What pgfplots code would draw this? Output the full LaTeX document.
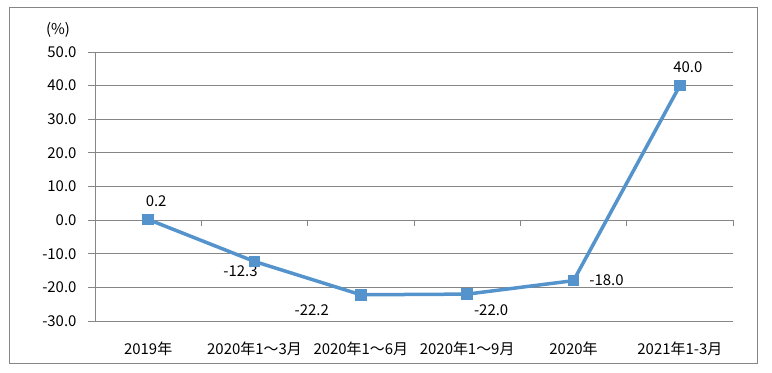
\documentclass[border=0pt]{standalone}
\usepackage{pgfplots}
\pgfplotsset{compat=1.18}
\usepackage{fontspec}
\setmainfont{Noto Sans CJK SC}
\definecolor{gridc}{RGB}{134,134,134}
\definecolor{lineblue}{RGB}{84,147,204}
\begin{document}
\begin{tikzpicture}[x=1bp,y=1bp,font=\fontsize{15}{18}\selectfont]
\path[use as bounding box] (0,0) rectangle (772,372);
\draw[gridc, line width=0.8bp] (9,9) rectangle (757,365);
\node at (58,342) {(\%)};
\begin{axis}[
  at={(95bp,51bp)}, anchor=south west,
  scale only axis, width=638bp, height=269bp,
  xmin=-0.5, xmax=5.5, ymin=-30, ymax=50,
  clip=false,
  axis y line*=left, axis x line*=bottom,
  x axis line style={draw=none},
  y axis line style={gridc, line width=0.8bp},
  ytick={-30,-20,...,50},
  ymajorgrids, major grid style={gridc, line width=0.8bp},
  tick align=outside, major tick length=7bp,
  y tick style={gridc, line width=0.8bp},
  x tick style={draw=none},
  xtick={0,...,5},
  xticklabels={2019年,2020年1～3月,2020年1～6月,2020年1～9月,2020年,2021年1-3月},
  yticklabel={\pgfmathprintnumber[fixed,fixed zerofill,precision=1,assume math mode=true]{\tick}},
  yticklabel style={anchor=east, xshift=-8bp},
  xticklabel style={anchor=north, yshift=-10bp},
]
\pgfplotsinvokeforeach{0.5,1.5,2.5,3.5,4.5,5.5}{\draw[gridc, line width=0.8bp] (axis cs:#1,0) -- ([yshift=-6bp]axis cs:#1,0);}
\addplot[color=lineblue, line width=3.5bp, mark=square*, mark size=4bp, mark options={solid}] coordinates {(0,0.2)(1,-12.3)(2,-22.2)(3,-22.0)(4,-18.0)(5,40.0)};
\node at (axis cs:0,0.2) [xshift=8bp, yshift=18bp] {0.2};
\node at (axis cs:1,-12.3) [xshift=-14bp, yshift=-10bp] {-12.3};
\node at (axis cs:2,-22.2) [xshift=-49bp, yshift=-15bp] {-22.2};
\node at (axis cs:3,-22.0) [xshift=24bp, yshift=-16bp] {-22.0};
\node at (axis cs:4,-18.0) [xshift=33bp, yshift=0bp] {-18.0};
\node at (axis cs:5,40.0) [xshift=8bp, yshift=18bp] {40.0};
\end{axis}
\end{tikzpicture}
\end{document}
